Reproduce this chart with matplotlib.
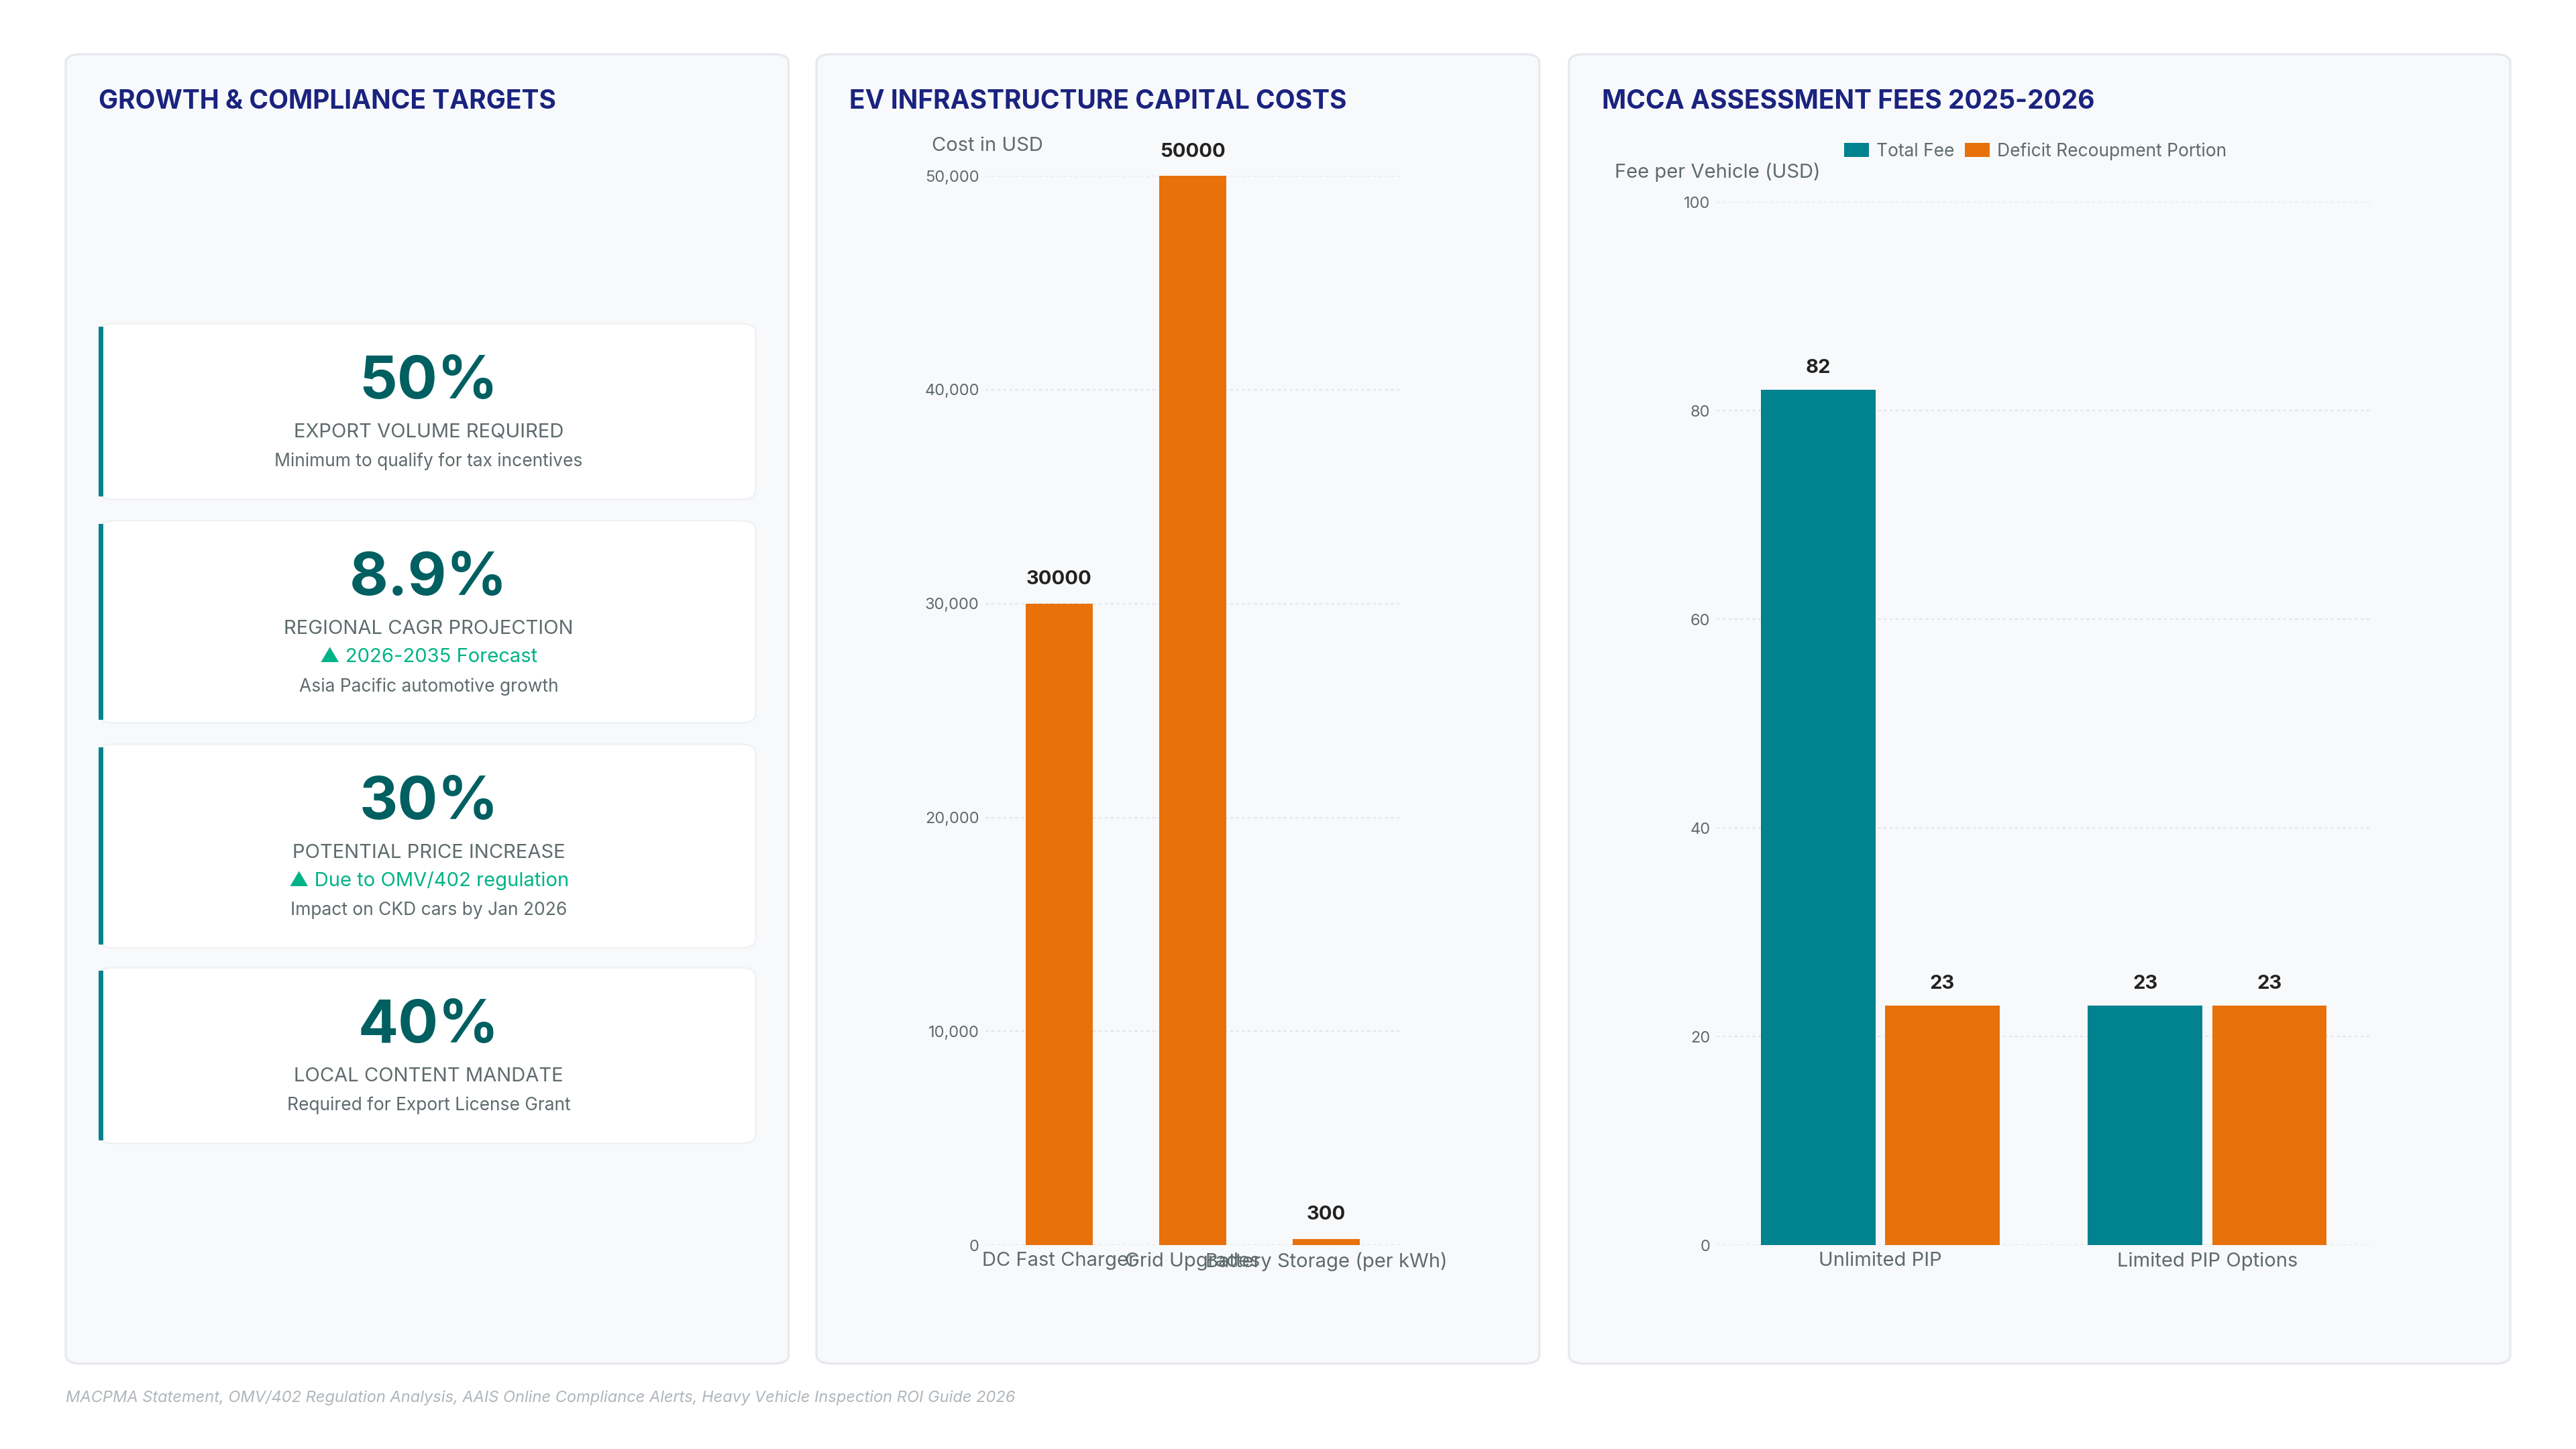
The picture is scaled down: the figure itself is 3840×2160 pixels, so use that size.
import matplotlib
matplotlib.use("Agg")
import matplotlib.pyplot as plt
from matplotlib.patches import FancyBboxPatch, Rectangle

plt.rcParams['font.family'] = ['Inter', 'DejaVu Sans']

# data
kpi_values = ["50%", "8.9%", "30%", "40%"]
kpi_labels = ["EXPORT VOLUME REQUIRED", "REGIONAL CAGR PROJECTION",
              "POTENTIAL PRICE INCREASE", "LOCAL CONTENT MANDATE"]
kpi_trends = [None, "▲ 2026-2035 Forecast", "▲ Due to OMV/402 regulation", None]
kpi_notes = ["Minimum to qualify for tax incentives", "Asia Pacific automotive growth",
             "Impact on CKD cars by Jan 2026", "Required for Export License Grant"]

ev_items = ["DC Fast Charger", "Grid Upgrades", "Battery Storage (per kWh)"]
ev_costs = [30000, 50000, 300]

fee_groups = ["Unlimited PIP", "Limited PIP Options"]
total_fee = [82, 23]
deficit_fee = [23, 23]

TEAL = "#00838f"
ORANGE = "#e8710a"
NAVY = "#1a237e"
DARK = "#005f61"
GREY = "#5f6b6d"

W, H = 1568, 882
fig = plt.figure(figsize=(19.2, 10.8), dpi=200)
fig.patch.set_facecolor("white")

def fx(x): return x / W
def fy(y): return 1 - y / H

def panel(x0, x1, y0=33, y1=830):
    fig.patches.append(FancyBboxPatch((fx(x0), fy(y1)), fx(x1 - x0), (y1 - y0) / H,
                                      boxstyle="round,pad=0,rounding_size=0.006",
                                      transform=fig.transFigure, facecolor="#f8f9fb",
                                      edgecolor="#e6e9ee", linewidth=1.2, zorder=-2))

panel(40, 480); panel(497, 937); panel(955, 1528)

fig.text(fx(60), fy(62), "GROWTH & COMPLIANCE TARGETS", color=NAVY, fontsize=14,
         fontweight="bold", va="center")
fig.text(fx(517), fy(62), "EV INFRASTRUCTURE CAPITAL COSTS", color=NAVY, fontsize=14,
         fontweight="bold", va="center")
fig.text(fx(975), fy(62), "MCCA ASSESSMENT FEES 2025-2026", color=NAVY, fontsize=14,
         fontweight="bold", va="center")

# KPI cards
cards = [(197, 304), (317, 440), (453, 577), (589, 696)]
for i, (y0, y1) in enumerate(cards):
    fig.patches.append(FancyBboxPatch((fx(60), fy(y1)), fx(400), (y1 - y0) / H,
                                      boxstyle="round,pad=0,rounding_size=0.006",
                                      transform=fig.transFigure, facecolor="white",
                                      edgecolor="#eef0f3", linewidth=0.8, zorder=-1))
    fig.patches.append(Rectangle((fx(60), fy(y1 - 2)), fx(3), (y1 - y0 - 4) / H,
                                 transform=fig.transFigure, facecolor=TEAL, zorder=-0.5))
    cx = fx(261)
    y = y0 + 36
    fig.text(cx, fy(y), kpi_values[i], color=DARK, fontsize=32, fontweight="bold",
             ha="center", va="center")
    y += 30
    fig.text(cx, fy(y), kpi_labels[i], color=GREY, fontsize=10.5, ha="center", va="center")
    if kpi_trends[i]:
        y += 17
        fig.text(cx, fy(y), kpi_trends[i], color="#00b386", fontsize=10.5,
                 ha="center", va="center")
    y += 18
    fig.text(cx, fy(y), kpi_notes[i], color=GREY, fontsize=9.5, ha="center", va="center")

def style(ax):
    ax.set_zorder(3)
    ax.set_facecolor("none")
    for s in ax.spines.values():
        s.set_visible(False)
    ax.grid(axis="y", color="#e3e6ea", linestyle=(0, (2, 2)), linewidth=0.8)
    ax.set_axisbelow(True)
    ax.tick_params(length=0, labelcolor=GREY, labelsize=8.5)
    ax.tick_params(axis="x", labelsize=10.5)

# EV costs
ax2 = fig.add_axes([fx(600), fy(758), fx(252), (758 - 107) / H])
style(ax2)
bx = list(range(len(ev_items)))
bars = ax2.bar(bx, ev_costs, width=0.5, color=ORANGE)
ax2.set_ylim(0, 50000)
ax2.set_xlim(-0.55, 2.55)
ax2.set_yticks([0, 10000, 20000, 30000, 40000, 50000])
ax2.set_yticklabels(["0", "10,000", "20,000", "30,000", "40,000", "50,000"])
ax2.set_xticks(bx)
ax2.set_xticklabels(ev_items)
for b, v in zip(bars, ev_costs):
    ax2.text(b.get_x() + b.get_width() / 2, v + 700, str(v), ha="center", va="bottom",
             fontsize=10.5, fontweight="bold", color="#222")
fig.text(fx(567), fy(89), "Cost in USD", color=GREY, fontsize=10.5, va="center")

# MCCA fees
ax3 = fig.add_axes([fx(1045), fy(758), fx(398), (758 - 123) / H])
style(ax3)
gx = list(range(len(fee_groups)))
b1 = ax3.bar([g - 0.19 for g in gx], total_fee, width=0.35, color=TEAL, label="Total Fee")
b2 = ax3.bar([g + 0.19 for g in gx], deficit_fee, width=0.35, color=ORANGE,
             label="Deficit Recoupment Portion")
ax3.set_ylim(0, 100)
ax3.set_xlim(-0.5, 1.5)
ax3.set_yticks([0, 20, 40, 60, 80, 100])
ax3.set_xticks(gx)
ax3.set_xticklabels(fee_groups)
for bs, vals in ((b1, total_fee), (b2, deficit_fee)):
    for b, v in zip(bs, vals):
        ax3.text(b.get_x() + b.get_width() / 2, v + 1.2, str(v), ha="center", va="bottom",
                 fontsize=10.5, fontweight="bold", color="#222")
fig.text(fx(983), fy(105), "Fee per Vehicle (USD)", color=GREY, fontsize=10.5, va="center")
fig.legend(handles=[b1, b2], loc="center left", bbox_to_anchor=(fx(1113), fy(92)),
           ncol=2, frameon=False, fontsize=9.5, labelcolor=GREY, handlelength=1.4,
           handleheight=0.9, columnspacing=0.6, handletextpad=0.4)

fig.text(fx(40), fy(851), "MACPMA Statement, OMV/402 Regulation Analysis, AAIS Online Compliance "
         "Alerts, Heavy Vehicle Inspection ROI Guide 2026", color="#b0b6bb", fontsize=8.5,
         style="italic", va="center")

fig.savefig("out.png", dpi=200, facecolor="white")
